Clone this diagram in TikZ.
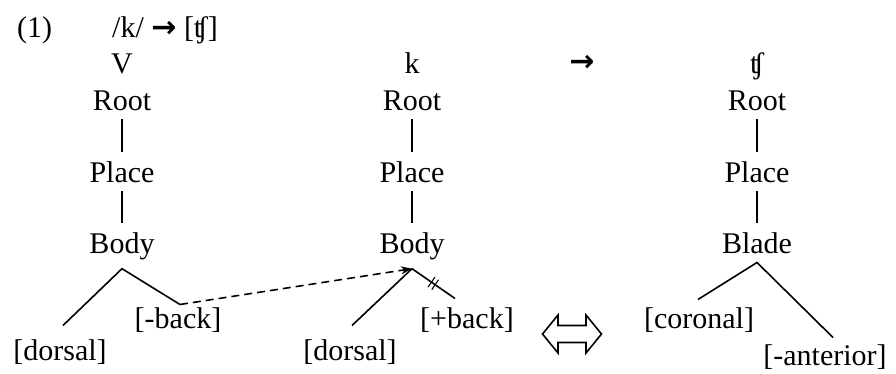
\documentclass[tikz,border=0pt]{standalone}
\usepackage{fontspec}
\setmainfont{Liberation Serif}
\newfontfamily\arrowfont{DejaVu Sans}
\usetikzlibrary{calc,arrows.meta,decorations.markings}

\tikzset{
  tier/.style={anchor=base, inner sep=9pt},
  feat/.style={anchor=base, inner sep=0pt},
  branch/.style={line width=1.6pt},
  delink/.style={postaction={decorate, decoration={markings,
      mark=at position .5 with {\draw[line width=1.1pt] (-2.5pt,-6pt) -- (-2.5pt,6pt) (2pt,-6pt) -- (2pt,6pt);}}}},
}

\begin{document}
\begin{tikzpicture}[x=1pt, y=-1pt, font=\fontsize{30}{36}\selectfont]
\useasboundingbox (0,0) rectangle (896,373);

\node[anchor=base west, inner sep=0] (num) at (17,37) {(1)};
\node[anchor=base west, inner sep=0] (rule) at (112,37) {/k/ {\arrowfont\bfseries →} [ʧ]};

% the three trees
\foreach \c/\x/\s/\low in {A/122/V/Body, B/412/k/Body, C/757/ʧ/Blade} {
    \node[tier] (seg\c) at (\x,73) {\s};
    \node[tier] (root\c) at (\x,110) {Root};
    \node[tier] (place\c) at (\x,182) {Place};
    \node[tier] (art\c) at (\x,253) {\low};
    \draw[branch] (root\c) -- (place\c);
    \draw[branch] (place\c) -- (art\c);
}
\node[anchor=base, inner sep=0] (to) at (582,71) {\arrowfont\bfseries →};

% features
\node[feat] (dorsA) at (60,360) {[dorsal]};
\node[feat] (backA) at (178,328) {[-back]};
\node[feat] (dorsB) at (350,360) {[dorsal]};
\node[feat] (backB) at (467,328) {[+back]};
\node[feat] (coro) at (699,328) {[coronal]};
\node[feat] (ant) at (825,365) {[-anterior]};

\coordinate (eDorsA) at ([xshift=3pt,yshift=13.5pt]dorsA.north);
\coordinate (eBackA) at ([xshift=2pt,yshift=2.5pt]backA.north);
\coordinate (eDorsB) at ([xshift=2pt,yshift=13.5pt]dorsB.north);
\coordinate (eBackB) at ([xshift=-12pt,yshift=8.5pt]backB.north);
\coordinate (eCoro) at ([xshift=-1pt,yshift=7.5pt]coro.north);
\coordinate (eAnt) at ([xshift=8pt,yshift=6.5pt]ant.north);

\draw[branch] (eDorsA) -- (artA.south) -- (eBackA);
\draw[branch] (eDorsB) -- (artB.south);
\draw[branch, delink] (artB.south) -- (eBackB);
\draw[branch] (eCoro) -- (artC.south) -- (eAnt);

% spreading
\draw[branch, dash pattern=on 8pt off 5pt, -{Stealth[length=11pt,width=8pt]}] (eBackA) -- (artB.south);

% equivalence
\coordinate (iff) at (572,334);
\draw[line width=1.6pt] (iff) ++(-29.5,0) -- ++(15.5,-19) -- ++(0,10.5) -- ++(28,0)
    -- ++(0,-10.5) -- ++(15.5,19) -- ++(-15.5,19) -- ++(0,-10.5) -- ++(-28,0)
    -- ++(0,10.5) -- cycle;

\end{tikzpicture}
\end{document}
